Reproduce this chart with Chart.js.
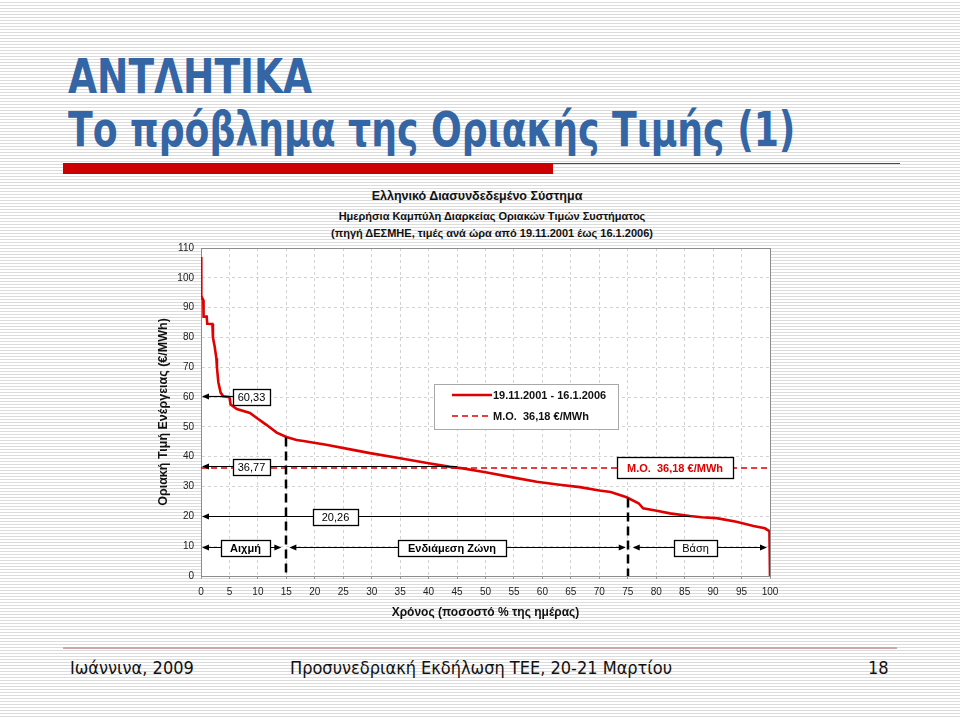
<!DOCTYPE html>
<html>
<head>
<meta charset="utf-8">
<script src="https://cdn.jsdelivr.net/npm/chart.js@4.4.1/dist/chart.umd.min.js"></script>
<style>
html,body{margin:0;padding:0;}
body{width:960px;height:717px;position:relative;overflow:hidden;
  background:repeating-linear-gradient(to bottom,#ffffff 0px,#ffffff 2px,#dcdcdc 2px,#dcdcdc 3px);
  font-family:"Liberation Sans",Arial,sans-serif;}
.slideTitle{position:absolute;left:68px;font-family:"DejaVu Sans Condensed","DejaVu Sans",sans-serif;font-weight:bold;
  font-size:48px;line-height:48px;color:#3465a4;white-space:nowrap;transform-origin:0 0;}
#t1{top:52px;}
#t2{top:105px;}
#barThick{position:absolute;left:63px;top:163px;width:490px;height:11px;background:#cc0000;}
#barThin{position:absolute;left:553px;top:163px;width:347px;height:1px;background:#b02020;}
.ct{position:absolute;width:500px;text-align:center;font-weight:bold;color:#111;white-space:nowrap;}
#c1{left:227px;top:189px;font-size:12.5px;}
#c2{left:242px;top:210px;font-size:11px;}
#c3{left:242px;top:227px;font-size:11px;}
#footLine{position:absolute;left:63px;top:647px;width:834px;height:2px;background:#c9a9a9;}
.foot{position:absolute;top:657px;font-family:"DejaVu Sans Condensed","DejaVu Sans",sans-serif;font-size:18px;color:#111;white-space:nowrap;}
#f1{left:70px;}
#f2{left:290px;}
#f3{left:868px;}
#chartBox{position:absolute;left:140px;top:185px;width:650px;height:445px;}
</style>
</head>
<body>
<div id="t1" class="slideTitle">ΑΝΤΛΗΤΙΚΑ</div>
<div id="t2" class="slideTitle">Το πρόβλημα της Οριακής Τιμής (1)</div>
<div id="barThick"></div><div id="barThin"></div>
<div id="c1" class="ct">Ελληνικό Διασυνδεδεμένο Σύστημα</div>
<div id="c2" class="ct">Ημερήσια Καμπύλη Διαρκείας Οριακών Τιμών Συστήματος</div>
<div id="c3" class="ct">(πηγή ΔΕΣΜΗΕ, τιμές ανά ώρα από 19.11.2001 έως 16.1.2006)</div>
<div id="chartBox"><canvas id="cv" width="650" height="445"></canvas></div>
<div id="footLine"></div>
<div id="f1" class="foot">Ιωάννινα, 2009</div>
<div id="f2" class="foot">Προσυνεδριακή Εκδήλωση ΤΕΕ, 20-21 Μαρτίου</div>
<div id="f3" class="foot">18</div>
<script>
// ---- data ----
const pctTime = [0,0.05,0.25,0.4,0.45,1.0,1.1,2.0,2.1,2.4,2.7,2.8,3.05,3.45,3.9,5.0,5.2,6.3,8.6,9.8,11.5,13.3,15.0,16.8,18,22,26.7,29.7,35,40,43.8,46,50,55,59,63,66.6,70,72,74.8,76.9,77.7,80.1,82.4,85.9,88,90.6,94.1,97.1,99.1,99.9,100];
const priceValues = [107,94,93,92.5,87,87,84.6,84.5,80,77,73,70,65,61.5,60.3,60,57.5,56,54.7,53,50.7,48.1,46.6,45.6,45.3,44,42.3,41.2,39.5,37.8,36.6,36.1,34.8,33,31.6,30.6,29.8,28.7,28.2,26.4,24.4,22.7,21.9,21,20.1,19.7,19.4,18.2,16.8,16,15,0];
const meanPrice = 36.18;
const refLevels = [60.33, 36.77, 20.26];
const refLabels = ['60,33', '36,77', '20,26'];
const zoneBounds = [15, 75];
const zoneLabels = ['Αιχμή', 'Ενδιάμεση Ζώνη', 'Βάση'];
const zoneRowLevel = 9.6;
const seriesLabel = '19.11.2001 - 16.1.2006';
const meanLabel = 'Μ.Ο.  36,18 €/MWh';
const xTitle = 'Χρόνος (ποσοστό % της ημέρας)';
const yTitle = 'Οριακή Τιμή Ενέργειας (€/MWh)';

// fit slide titles width to reference
(function(){
  const fit=(id,w)=>{const el=document.getElementById(id);const s=w/el.offsetWidth;el.style.transform='scaleX('+s+')';};
  fit('t1',244); fit('t2',727);
})();

function curveAt(p){
  for(let i=1;i<pctTime.length;i++){
    if(p<=pctTime[i]){const t=(p-pctTime[i-1])/(pctTime[i]-pctTime[i-1]);return priceValues[i-1]+t*(priceValues[i]-priceValues[i-1]);}
  }
  return priceValues[priceValues.length-1];
}
function arrow(ctx,px,py,dir){
  ctx.beginPath();ctx.moveTo(px,py);ctx.lineTo(px-dir*7,py-3);ctx.lineTo(px-dir*7,py+3);ctx.closePath();ctx.fill();
}
function hline(ctx,x1,x2,py){ctx.beginPath();ctx.moveTo(x1,py);ctx.lineTo(x2,py);ctx.stroke();}
function box(ctx,x1,x2,cy,h,text,font,color){
  x1=Math.round(x1);x2=Math.round(x2);const top=Math.round(cy-h/2);
  ctx.fillStyle='#fff';ctx.fillRect(x1,top,x2-x1,h);
  ctx.strokeStyle='#000';ctx.lineWidth=1.3;ctx.strokeRect(x1+0.5,top+0.5,x2-x1,h);
  ctx.fillStyle=color;ctx.font=font;ctx.textAlign='center';ctx.textBaseline='middle';
  ctx.fillText(text,(x1+x2)/2,top+h/2+1);
}

const annotPlugin = {
  id:'annot',
  beforeDraw(chart){
    const {ctx,chartArea:a}=chart;
    ctx.save();ctx.fillStyle='#fff';ctx.fillRect(a.left,a.top,a.width,a.height);ctx.restore();
  },
  beforeDatasetsDraw(chart){
    const {ctx,chartArea:a}=chart;
    ctx.save();ctx.strokeStyle='#8c8c8c';ctx.lineWidth=1;
    ctx.strokeRect(Math.round(a.left)+0.5,Math.round(a.top)+0.5,Math.round(a.width),Math.round(a.height));
    ctx.restore();
  },
  afterDatasetsDraw(chart){
    const {ctx,chartArea:a,scales:{x,y}}=chart;
    const X=v=>x.getPixelForValue(v), Y=v=>Math.round(y.getPixelForValue(v))+0.5;
    const F='11px "Liberation Sans", Arial, sans-serif', FB='bold 11px "Liberation Sans", Arial, sans-serif';
    ctx.save();
    // zone boundaries
    ctx.strokeStyle='#000';ctx.lineWidth=2.5;ctx.setLineDash([9,5]);
    zoneBounds.forEach(b=>{const px=Math.round(X(b));ctx.beginPath();ctx.moveTo(px,Y(curveAt(b)));ctx.lineTo(px,a.bottom);ctx.stroke();});
    ctx.setLineDash([]);
    // reference level lines
    const lineEnds=[5.6,45,86];
    const boxes=[[5.6,12.1],[5.6,12.1],[19.7,27.6]];
    refLevels.forEach((lv,i)=>{
      const py=Y(lv);
      ctx.strokeStyle='#000';ctx.fillStyle='#000';ctx.lineWidth=1.2;
      hline(ctx,X(0)+2,X(lineEnds[i]),py);arrow(ctx,X(0)+1,py,-1);
    });
    refLevels.forEach((lv,i)=>{box(ctx,X(boxes[i][0]),X(boxes[i][1]),Y(lv)+0.5,16,refLabels[i],F,'#000');});
    // zone row
    const zy=Y(zoneRowLevel);
    const segs=[[X(0)+1,X(zoneBounds[0])-5],[X(zoneBounds[0])+3,X(zoneBounds[1])-2],[X(zoneBounds[1])+5,X(100)-3]];
    const zb=[[3.6,12.2],[34.6,53.6],[83.1,90.7]];
    const zf=[FB,FB,F];
    segs.forEach((s,i)=>{
      ctx.strokeStyle='#000';ctx.fillStyle='#000';ctx.lineWidth=1.2;
      hline(ctx,s[0]+2,s[1]-2,zy);arrow(ctx,s[0],zy,-1);arrow(ctx,s[1],zy,1);
    });
    segs.forEach((s,i)=>{box(ctx,X(zb[i][0]),X(zb[i][1]),zy+0.5,16,zoneLabels[i],zf[i],'#000');});
    // mean label box
    box(ctx,X(73.1),X(93.5),Y(meanPrice)-1.5,21,meanLabel,FB,'#e00000');
    // legend
    const lx1=Math.round(X(40.9)), lx2=Math.round(X(73.3)), ly1=Math.round(y.getPixelForValue(64.4)), ly2=Math.round(y.getPixelForValue(49.3));
    ctx.fillStyle='#fff';ctx.fillRect(lx1,ly1,lx2-lx1,ly2-ly1);
    ctx.strokeStyle='#a8a8a8';ctx.lineWidth=1;ctx.strokeRect(lx1+0.5,ly1+0.5,lx2-lx1,ly2-ly1);
    const r1=ly1+11, r2=ly1+32;
    ctx.strokeStyle='#e00000';ctx.lineWidth=2.5;hline(ctx,lx1+18,lx1+58,r1);
    ctx.lineWidth=1.5;ctx.setLineDash([6,4]);hline(ctx,lx1+18,lx1+58,r2);ctx.setLineDash([]);
    ctx.fillStyle='#111';ctx.font=FB;ctx.textAlign='left';ctx.textBaseline='middle';
    ctx.fillText(seriesLabel,lx1+59,r1+1);
    ctx.fillText(meanLabel,lx1+59,r2+1);
    ctx.restore();
  }
};

Chart.defaults.font.family='"Liberation Sans", Arial, sans-serif';
Chart.defaults.color='#222';

new Chart(document.getElementById('cv'),{
  type:'line',
  data:{datasets:[
    {label:meanLabel,data:[{x:0,y:meanPrice},{x:100,y:meanPrice}],borderColor:'#e00000',borderWidth:1.5,borderDash:[6,4],pointRadius:0,order:2},
    {label:seriesLabel,data:pctTime.map((p,i)=>({x:p,y:priceValues[i]})),borderColor:'#e00000',borderWidth:2.6,pointRadius:0,tension:0,order:1}
  ]},
  options:{
    responsive:false,animation:false,
    layout:{padding:{left:12,right:20,top:63,bottom:0}},
    plugins:{legend:{display:false},tooltip:{enabled:false},title:{display:false}},
    scales:{
      x:{type:'linear',min:0,max:100,
        ticks:{stepSize:5,padding:7,color:'#222',font:{size:10}},
        grid:{color:'#d2d2d2',lineWidth:1,drawTicks:true,tickLength:3,tickColor:'#999'},
        border:{display:true,color:'#8c8c8c',width:1,dash:[3,3]},
        title:{display:true,text:xTitle,color:'#111',font:{size:12,weight:'bold'},padding:{top:4,bottom:10}},
        afterFit(s){s.height=54;}
      },
      y:{type:'linear',min:0,max:110,
        ticks:{stepSize:5,padding:7,color:'#222',font:{size:10}},
        grid:{color:'#d2d2d2',lineWidth:1,drawTicks:false},
        border:{display:true,color:'#8c8c8c',width:1,dash:[3,3]},
        title:{display:true,text:yTitle,color:'#111',font:{size:12.5,weight:'bold'},padding:{top:4,bottom:4}},
        afterFit(s){s.width=49;}
      }
    }
  },
  plugins:[annotPlugin]
});
</script>
</body>
</html>
